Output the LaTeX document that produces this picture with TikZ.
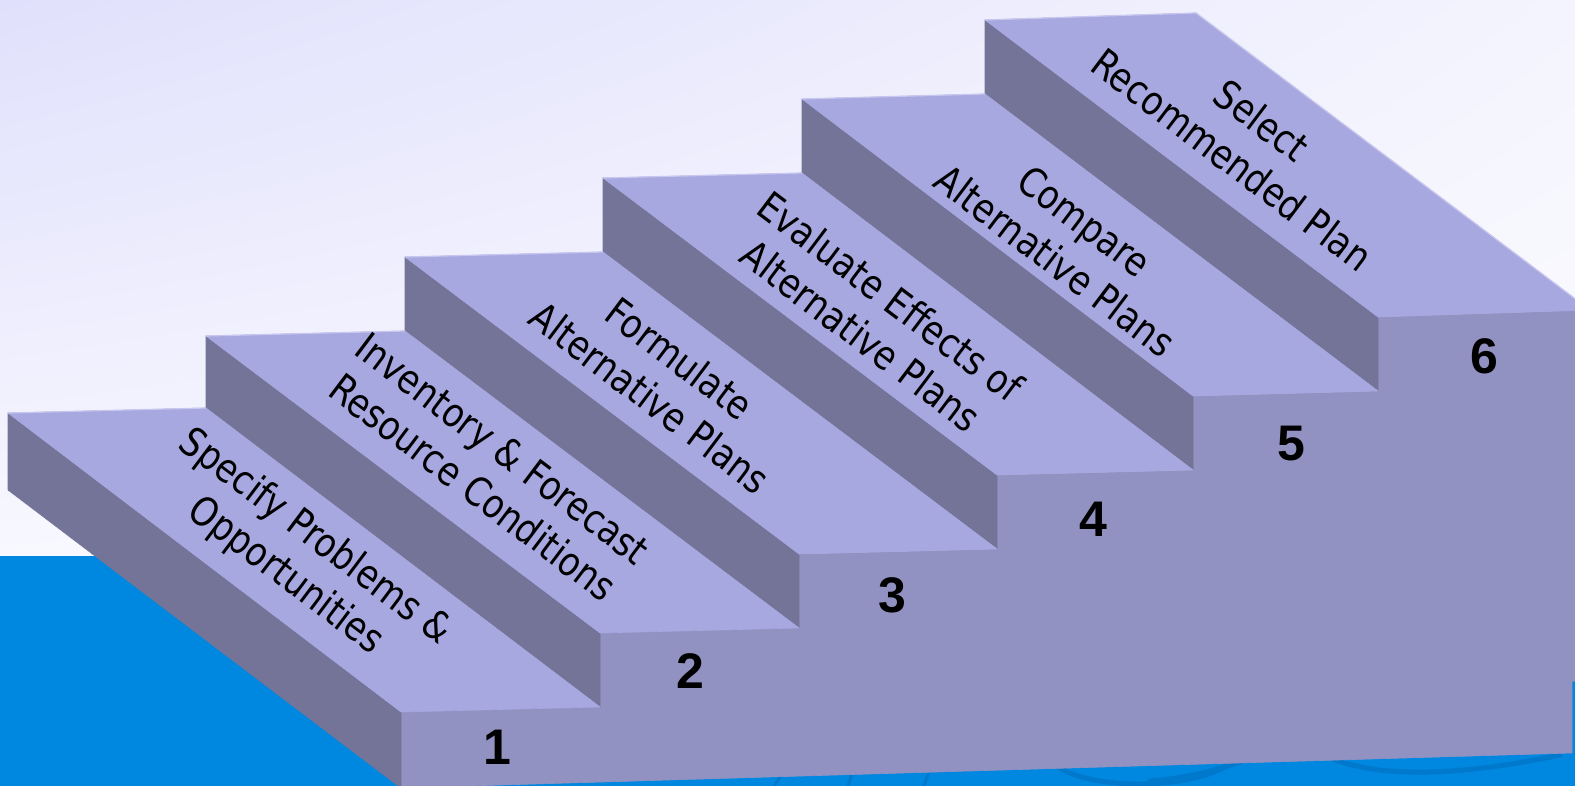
\documentclass[tikz,border=0pt]{standalone}
\usepackage{fontspec}
\usetikzlibrary{shadings}
\setmainfont[FakeStretch=0.85]{DejaVu Sans}
\newfontfamily\numfont{Liberation Sans}
\definecolor{treadc}{RGB}{168,168,224}
\definecolor{sidec}{RGB}{116,116,153}
\definecolor{riserc}{RGB}{146,146,194}
\definecolor{seablue}{RGB}{0,135,224}
\definecolor{wavec}{RGB}{0,121,204}
\definecolor{skyul}{RGB}{224,224,252}
\definecolor{skyur}{RGB}{244,244,254}
\definecolor{skyll}{RGB}{248,248,255}
\definecolor{skylr}{RGB}{252,252,255}
\definecolor{edgehi}{RGB}{198,198,238}
\tikzset{
  treadface/.style={fill=treadc,draw=treadc,line width=0.6pt,line join=round},
  sideface/.style={fill=sidec,draw=sidec,line width=0.6pt,line join=round},
  riserface/.style={fill=riserc,draw=riserc,line width=0.6pt,line join=round},
  backedge/.style={draw=edgehi,line width=1.2pt},
  wave/.style={draw=wavec,line width=5pt,line cap=round},
  steplabel/.style={align=center,rotate=-37,inner sep=0pt,
    font=\fontsize{40}{49}\selectfont,text=black},
  stepnum/.style={inner sep=0pt,font=\numfont\bfseries\fontsize{50}{50}\selectfont,text=black}
}
\begin{document}
\begin{tikzpicture}[x=1pt,y=-1pt]
\useasboundingbox (0,0) rectangle (1575,786);
\clip (0,0) rectangle (1575,786);
% background
\shade[upper left=skyul,upper right=skyur,lower left=skyll,lower right=skylr]
  (0,0) rectangle (1575,556);
\fill[seablue] (0,556) rectangle (1575,786);
% waves in the sea
\draw[wave] (1150,781) .. controls (1180,779) and (1210,772) .. (1240,762);
\draw[wave] (1335,760) .. controls (1380,776) and (1450,778) .. (1560,755);
\draw[wave] (1060,768) .. controls (1095,790) and (1190,790) .. (1230,764);
\draw[wave,line width=3pt] (770,792) -- (782,774);
\draw[wave,line width=3pt] (846,792) -- (852,774);
\draw[wave,line width=3pt] (922,792) -- (928,774);
% front (risers)
\path[riserface] (401,712) -- (600,707) -- (600,633) -- (799,628) -- (799,554)
  -- (997,549) -- (997,475) -- (1193,470) -- (1193,396) -- (1378,391)
  -- (1378,317) -- (1590,310) -- (1590,681) -- (1572,681) -- (1572,753)
  -- (401,788) -- cycle;
% side faces
\path[sideface] (8,413) -- (401,712) -- (401,788) -- (8,490) -- cycle;
\path[sideface] (206,336) -- (600,633) -- (600,707) -- (206,408) -- cycle;
\path[sideface] (405,257) -- (799,554) -- (799,628) -- (405,331) -- cycle;
\path[sideface] (603,178) -- (997,475) -- (997,549) -- (603,252) -- cycle;
\path[sideface] (802,99) -- (1193,396) -- (1193,470) -- (802,173) -- cycle;
\path[sideface] (985,20) -- (1378,317) -- (1378,391) -- (985,94) -- cycle;
% treads
\path[treadface] (8,413) -- (206,408) -- (600,707) -- (401,712) -- cycle;
\path[treadface] (206,336) -- (405,331) -- (799,628) -- (600,633) -- cycle;
\path[treadface] (405,257) -- (603,252) -- (997,549) -- (799,554) -- cycle;
\path[treadface] (603,178) -- (802,173) -- (1193,470) -- (997,475) -- cycle;
\path[treadface] (802,99) -- (985,94) -- (1378,391) -- (1193,396) -- cycle;
\path[treadface] (985,20) -- (1196,13) -- (1590,310) -- (1378,317) -- cycle;
% highlight on back edges
\draw[backedge] (8,413) -- (206,408);
\draw[backedge] (206,336) -- (405,331);
\draw[backedge] (405,257) -- (603,252);
\draw[backedge] (603,178) -- (802,173);
\draw[backedge] (802,99) -- (985,94);
\draw[backedge] (985,20) -- (1196,13) -- (1590,310);
% labels
\node[steplabel] (lab1) at (300,557) {Specify Problems \&\\Opportunities};
\node[steplabel] (lab2) at (488,468) {Inventory \& Forecast\\Resource Conditions};
\node[steplabel] (lab3) at (665,378) {Formulate\\Alternative Plans};
\node[steplabel] (lab4) at (876,316) {Evaluate Effects of\\Alternative Plans};
\node[steplabel] (lab5) at (1070,241) {Compare\\Alternative Plans};
\node[steplabel] (lab6) at (1247,140) {Select\\Recommended Plan};
% numbers
\node[stepnum] (n1) at (497,747) {1};
\node[stepnum] (n2) at (690,671) {2};
\node[stepnum] (n3) at (892,595) {3};
\node[stepnum] (n4) at (1093,519) {4};
\node[stepnum] (n5) at (1291,444) {5};
\node[stepnum] (n6) at (1484,356) {6};
\end{tikzpicture}
\end{document}
